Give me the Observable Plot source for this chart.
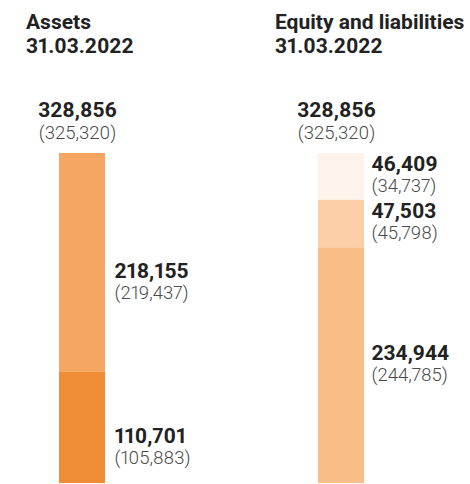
<!DOCTYPE html>
<html>
<head>
<meta charset="utf-8">
<script src="https://cdn.jsdelivr.net/npm/d3@7"></script>
<script src="https://cdn.jsdelivr.net/npm/@observablehq/plot@0.6"></script>
<style>
  body { margin: 0; background: #fff; font-family: Roboto, sans-serif; }
  #wrap { position: relative; width: 470px; height: 484px; }
  .title { position: absolute; top: 9.8px; font: bold 21px/24px Roboto, sans-serif; color: #222; white-space: nowrap; font-variant-numeric: proportional-nums; }
  #chart { position: absolute; left: 0; top: 0; }
  #chart text { font-variant-numeric: proportional-nums; }
</style>
</head>
<body>
<div id="wrap">
  <div id="chart"></div>
  <div class="title" style="left:26px">Assets<br>31.03.2022</div>
  <div class="title" style="left:275px">Equity and liabilities<br>31.03.2022</div>
</div>
<script>
const columns = ["Assets", "Equity and liabilities"];
const assetValues = [110701, 218155];
const assetPrior = [105883, 219437];
const equityValues = [234944, 47503, 46409];
const equityPrior = [244785, 45798, 34737];
const assetColors = ["#f18c36", "#f5a662"];
const equityColors = ["#f9bd87", "#fccfa7", "#fef3ea"];
const totalValue = 328856;
const totalPrior = 325320;

const fmt = d3.format(",");
function build(col, values, prior, colors) {
  let acc = 0;
  return values.map((v, i) => {
    const row = {col, key: col + i, value: v, prior: prior[i], y1: acc, y2: acc + v, color: colors[i]};
    acc += v;
    return row;
  });
}
const rows = [
  ...build(columns[0], assetValues, assetPrior, assetColors),
  ...build(columns[1], equityValues, equityPrior, equityColors)
];
const totals = columns.map(col => ({col, value: totalValue, prior: totalPrior}));
const mid = d => (d.y1 + d.y2) / 2;
const left = rows.filter(d => d.col === columns[0]);
const right = rows.filter(d => d.col === columns[1]);

const chart = Plot.plot({
  width: 470,
  height: 484,
  marginTop: 153,
  marginBottom: 1,
  marginLeft: 0,
  marginRight: 0,
  x: {type: "band", domain: columns, range: [58, 364], paddingInner: 0.823, paddingOuter: 0, axis: null},
  y: {domain: [0, totalValue], axis: null},
  color: {type: "identity"},
  style: {fontFamily: "Roboto, sans-serif", background: "transparent"},
  marks: [
    Plot.rectY(rows, {x: "col", y1: "y1", y2: "y2", fill: "color"}),
    // segment labels, assets
    Plot.text(left, {x: "col", y: mid, text: d => fmt(d.value), textAnchor: "start", dx: 32, dy: 8, fontWeight: "bold", fontSize: 21, fill: "#222"}),
    Plot.text(left, {x: "col", y: mid, text: d => `(${fmt(d.prior)})`, textAnchor: "start", dx: 32, dy: 30, fontWeight: 300, fontSize: 18.5, fill: "#4a4a4a"}),
    // segment labels, equity and liabilities
    Plot.text(right, {x: "col", y: mid, text: d => fmt(d.value), textAnchor: "start", dx: 30, dy: -12.5, fontWeight: "bold", fontSize: 21, fill: "#222"}),
    Plot.text(right, {x: "col", y: mid, text: d => `(${fmt(d.prior)})`, textAnchor: "start", dx: 30, dy: 9.5, fontWeight: 300, fontSize: 18.5, fill: "#4a4a4a"}),
    // totals
    Plot.text(totals, {x: "col", y: "value", text: d => fmt(d.value), textAnchor: "middle", dx: -5, dy: -43, fontWeight: "bold", fontSize: 21, fill: "#222"}),
    Plot.text(totals, {x: "col", y: "value", text: d => `(${fmt(d.prior)})`, textAnchor: "middle", dx: -5, dy: -20, fontWeight: 300, fontSize: 18.5, fill: "#4a4a4a"})
  ]
});
document.getElementById("chart").appendChild(chart);
</script>
</body>
</html>
